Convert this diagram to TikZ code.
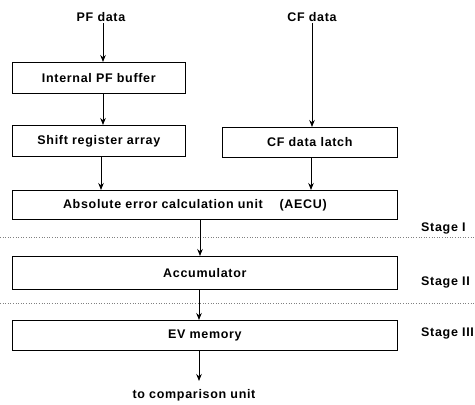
\documentclass[tikz,border=0pt]{standalone}
\usepackage{fontspec}
\setmainfont{Liberation Sans}[LetterSpace=5.5]
\usetikzlibrary{arrows.meta}
\begin{document}
\begin{tikzpicture}[x=1pt,y=-1pt,
  txt/.style={font=\fontsize{12.5}{14}\selectfont\bfseries},
  unit/.style={draw, line width=0.7pt, inner sep=0pt, anchor=north west, txt},
  lbl/.style={txt, inner sep=1pt},
  flow/.style={-{Stealth[length=7pt,width=5.5pt]}, line width=0.8pt},
  stageline/.style={dotted, line width=0.6pt, gray}]
  \useasboundingbox (0,0) rectangle (475,405);

  % inputs
  \node[lbl] (pf) at (101,17) {PF data};
  \node[lbl] (cf) at (312,17) {CF data};

  % processing units
  \node[unit, minimum width=173pt, minimum height=31pt] (buf) at (12,62) {Internal PF buffer};
  \node[unit, minimum width=173pt, minimum height=31pt] (sra) at (12,125) {Shift register array};
  \node[unit, minimum width=175pt, minimum height=30pt] (latch) at (222,127) {CF data latch};
  \node[unit, minimum width=385pt, minimum height=29pt] (aecu) at (12,190) {Absolute error calculation unit \quad(AECU)\hspace*{20pt}};
  \node[unit, minimum width=385pt, minimum height=33pt] (acc) at (12,256) {Accumulator};
  \node[unit, minimum width=385pt, minimum height=30pt] (ev) at (12,320) {EV memory};

  \node[lbl] (out) at (194,395) {to comparison unit};
  \coordinate (outtip) at (199,381);

  % stage labels and separators
  \node[lbl, anchor=west] (s1) at (420,228) {Stage I};
  \node[lbl, anchor=west] (s2) at (420,282) {Stage II};
  \node[lbl, anchor=west] (s3) at (420,333) {Stage III};
  \coordinate (d1a) at (0,237);   \coordinate (d1b) at (475,237);
  \coordinate (d2a) at (0,303);   \coordinate (d2b) at (475,303);
  \draw[stageline] (d1a) -- (d1b);
  \draw[stageline] (d2a) -- (d2b);

  % data flow
  \draw[flow] (pf.south -| 103,0) -- (buf.north -| 103,0);
  \draw[flow] (buf.south -| 103,0) -- (sra.north -| 103,0);
  \draw[flow] (cf.south -| 312,0) -- (latch.north -| 312,0);
  \draw[flow] (sra.south -| 101,0) -- (aecu.north -| 101,0);
  \draw[flow] (latch.south -| 311,0) -- (aecu.north -| 311,0);
  \draw[flow] (aecu.south -| 200,0) -- (acc.north -| 200,0);
  \draw[flow] (acc.south -| 199,0) -- (ev.north -| 199,0);
  \draw[flow] (ev.south -| 199,0) -- (outtip);
\end{tikzpicture}
\end{document}
